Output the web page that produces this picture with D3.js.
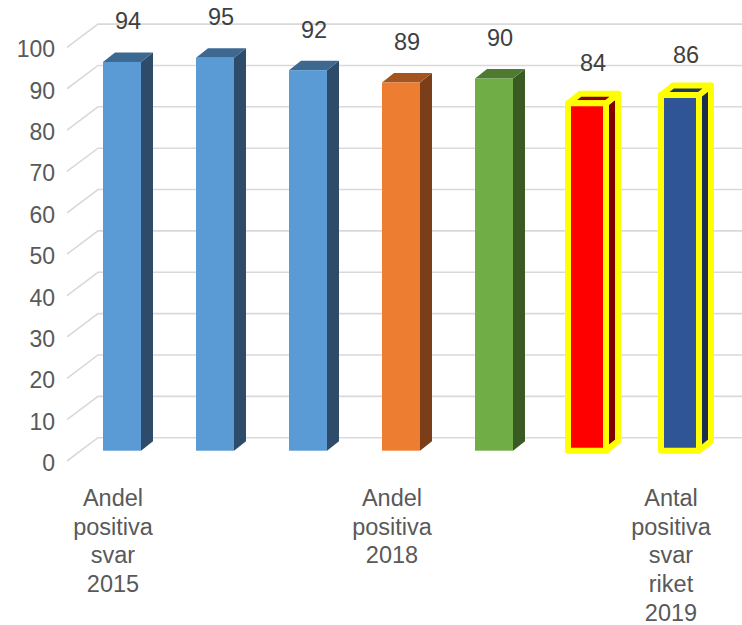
<!DOCTYPE html>
<html>
<head>
<meta charset="utf-8">
<script src="https://cdn.jsdelivr.net/npm/d3@7"></script>
<style>
  html, body { margin: 0; padding: 0; background: #fff; }
  svg { display: block; font-family: "Liberation Sans", Arial, sans-serif; }
</style>
</head>
<body>
<div id="chart"></div>
<script>
// data
const categories = ['c1', 'c2', 'c3', 'c4', 'c5', 'c6', 'c7'];
const categoryLabels = ['Andel positiva svar 2015', '', '', 'Andel positiva 2018', '', '', 'Antal positiva svar riket 2019'];
const values = [94, 95, 92, 89, 90, 84, 86];
const yTicks = [0, 10, 20, 30, 40, 50, 60, 70, 80, 90, 100];

// styles, one per bar
const frontColors = ['#5b9bd5', '#5b9bd5', '#5b9bd5', '#ed7d31', '#70ad47', '#ff0000', '#2f5597'];
const sideColors = ['#2e4b6a', '#2e4b6a', '#2e4b6a', '#7a3e18', '#3a5a24', '#800000', '#1c2d4e'];
const topColors = ['#3d6890', '#3d6890', '#3d6890', '#a5541f', '#4e7a32', '#8b0000', '#1f3660'];
const highlighted = [false, false, false, false, false, true, true];

const width = 742, height = 625;
const depth = {dx: 12, dy: -9.5};

const svg = d3.select('#chart').append('svg')
  .attr('width', width)
  .attr('height', height);

const y = d3.scaleLinear()
  .domain([0, 100])
  .range([450.7, 37.1]);

const x = d3.scaleBand()
  .domain(categories)
  .range([75.5, 726.5])
  .paddingInner(55 / 93)
  .paddingOuter(55 / 186);

// gridlines: diagonal floor edge + back wall line
const grid = svg.append('g').attr('class', 'grid');
grid.selectAll('path')
  .data(yTicks)
  .enter().append('path')
  .attr('d', d => `M67,${y(d) + 10.3}L98,${y(d) - 13}L${width},${y(d) - 13}`)
  .attr('fill', 'none')
  .attr('stroke', '#d9d9d9')
  .attr('stroke-width', 1.6);

// y tick labels
svg.append('g').selectAll('text')
  .data(yTicks)
  .enter().append('text')
  .attr('x', 55)
  .attr('y', d => y(d) + 10.3 + 10)
  .attr('text-anchor', 'end')
  .attr('font-size', 23)
  .attr('fill', '#595959')
  .text(d => d);

// bars
const bars = svg.append('g').attr('class', 'bars')
  .selectAll('g')
  .data(values.map((v, i) => ({v, i, c: categories[i]})))
  .enter().append('g');

const w = x.bandwidth();

const stroke = sel => sel
  .attr('stroke', d => highlighted[d.i] ? '#ffff00' : 'none')
  .attr('stroke-width', 6)
  .attr('stroke-linejoin', 'round');

bars.append('path')
  .attr('d', d => {
    let x0 = x(d.c) + w, yt = y(d.v), yb = y(0);
    return `M${x0},${yb}L${x0 + depth.dx},${yb + depth.dy}L${x0 + depth.dx},${yt + depth.dy}L${x0},${yt}Z`;
  })
  .attr('fill', d => sideColors[d.i])
  .call(stroke);

bars.append('path')
  .attr('d', d => {
    let x0 = x(d.c), yt = y(d.v);
    return `M${x0},${yt}L${x0 + depth.dx},${yt + depth.dy}L${x0 + w + depth.dx},${yt + depth.dy}L${x0 + w},${yt}Z`;
  })
  .attr('fill', d => topColors[d.i])
  .call(stroke);

bars.append('rect')
  .attr('x', d => x(d.c))
  .attr('y', d => y(d.v))
  .attr('width', w)
  .attr('height', d => y(0) - y(d.v))
  .attr('fill', d => frontColors[d.i])
  .call(stroke);

// value labels
bars.append('text')
  .attr('x', d => x(d.c) + (w + depth.dx) / 2)
  .attr('y', d => y(d.v) - 32.5)
  .attr('text-anchor', 'middle')
  .attr('font-size', 23.5)
  .attr('fill', '#404040')
  .text(d => d.v);

// category labels, one word per line
const cats = svg.append('g').selectAll('text')
  .data(categories)
  .enter().append('text')
  .attr('x', d => x(d) + w / 2 - 9)
  .attr('y', 506)
  .attr('text-anchor', 'middle')
  .attr('font-size', 23.5)
  .attr('fill', '#595959');

cats.selectAll('tspan')
  .data((d, i) => categoryLabels[i] ? categoryLabels[i].split(' ') : [])
  .enter().append('tspan')
  .attr('x', function() { return d3.select(this.parentNode).attr('x'); })
  .attr('dy', (d, i) => i === 0 ? 0 : 28.7)
  .text(d => d);
</script>
</body>
</html>
